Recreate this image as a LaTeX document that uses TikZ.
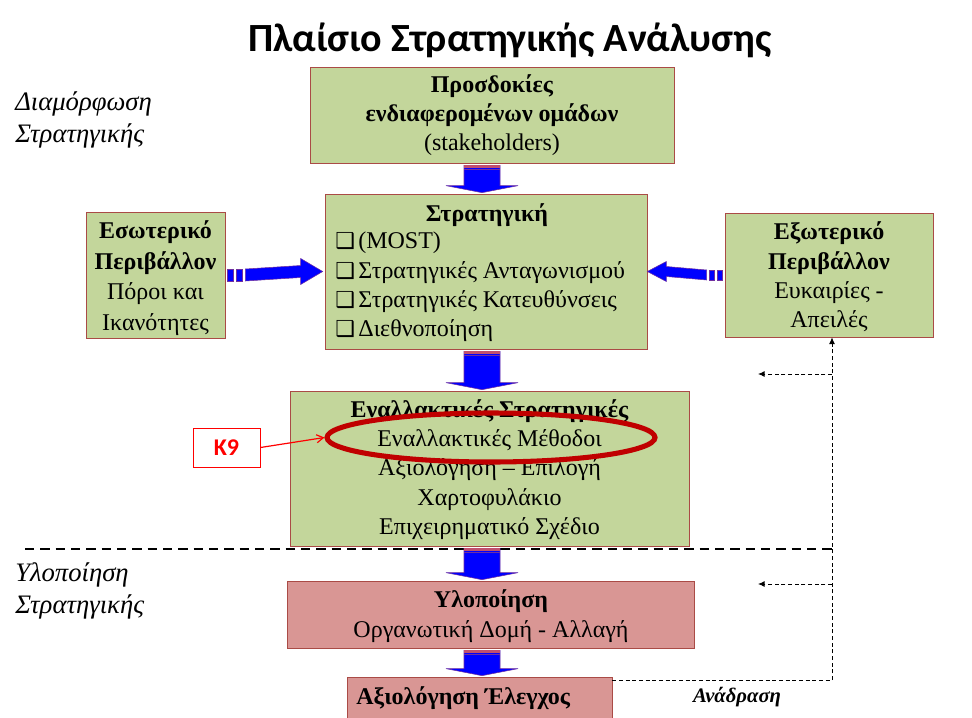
\documentclass[tikz,border=0pt]{standalone}
\usepackage{fontspec}
\setmainfont{Liberation Serif}
\newfontfamily\titlefont{Carlito}
\newfontfamily\symfont{DejaVu Sans}
\usetikzlibrary{calc,arrows.meta,shapes.geometric}
\definecolor{boxgreen}{RGB}{195,214,155}
\definecolor{boxpink}{RGB}{217,150,148}
\definecolor{boxedge}{RGB}{170,75,70}
\definecolor{arrblue}{RGB}{0,0,255}
\definecolor{arredge}{RGB}{112,48,160}
\definecolor{stripered}{RGB}{192,80,110}
\definecolor{ellred}{RGB}{192,0,0}
\newcommand{\cb}{{\symfont\fontsize{16.5}{16}\selectfont ❑}\hspace{2.5pt}}
\newcommand{\dnblock}[2]{%
  \fill[arrblue, draw=arredge, line width=0.4pt]
    ($(#1.south -| cx)+(-18,2)$) -- ($(#1.south -| cx)+(18,2)$) --
    ($(#2.north -| cx)+(18,-8)$) -- ($(#2.north -| cx)+(36,-8)$) --
    ($(#2.north -| cx)+(0,-1)$) -- ($(#2.north -| cx)+(-36,-8)$) --
    ($(#2.north -| cx)+(-18,-8)$) -- cycle;
  \fill[stripered] ($(#1.south -| cx)+(-18,2)$) rectangle ($(#1.south -| cx)+(18,4.5)$);
  \fill[arredge] ($(#1.south -| cx)+(-18,6)$) rectangle ($(#1.south -| cx)+(18,7)$);
}
\tikzset{
  box/.style={draw=boxedge, line width=0.5pt, fill=boxgreen, inner sep=0pt, align=center,
    font=\fontsize{18}{22}\selectfont},
  pinkbox/.style={box, fill=boxpink},
  txt/.style={inner sep=0pt, align=center, font=\fontsize{18}{22}\selectfont},
  sidelabel/.style={inner sep=0pt, align=left, anchor=west, font=\fontsize{20}{24}\selectfont\itshape},
  blockarr/.style={fill=arrblue, draw=arredge, line width=0.4pt},
  fb/.style={line width=0.7pt, dash pattern=on 3pt off 2pt},
  fbarrow/.style={fb, -{Latex[length=5pt,width=4.5pt]}},
}
\begin{document}
\begin{tikzpicture}[x=0.75pt,y=-0.75pt]
\useasboundingbox (0,0) rectangle (972,718);
\coordinate (cx) at (482,0);

% title
\node[inner sep=0pt, font=\titlefont\bfseries\fontsize{30}{34}\selectfont] (title) at (510,40) {Πλαίσιο Στρατηγικής Ανάλυσης};

% side labels
\node[sidelabel] (lab1) at (15,120) {Διαμόρφωση\\Στρατηγικής};
\node[sidelabel] (lab2) at (15,591) {Υλοποίηση\\Στρατηγικής};

% separator
\coordinate (sepL) at (25,549);
\coordinate (fbx) at (832,549);
\draw[line width=1.5pt, dash pattern=on 7pt off 4.5pt] (sepL) -- (fbx);

% boxes
\node[box, minimum width=364*0.75pt, minimum height=96*0.75pt] (stake) at (492,115) {};
\node[txt] (staketxt) at (492,115) {\textbf{Προσδοκίες}\\\textbf{ενδιαφερομένων ομάδων}\\(stakeholders)};

\node[box, minimum width=322*0.75pt, minimum height=155*0.75pt] (strat) at (486,271.5) {};
\node[txt, font=\fontsize{18}{22}\selectfont\bfseries] (strattitle) at (487,215) {Στρατηγική};
\node[txt, align=left, anchor=west] (stratitems) at (335,287) {\cb(MOST)\\\cb Στρατηγικές Ανταγωνισμού\\\cb Στρατηγικές Κατευθύνσεις\\\cb Διεθνοποίηση};

\node[box, minimum width=139*0.75pt, minimum height=126*0.75pt] (inner) at (155.5,275) {};
\node[txt, font=\fontsize{18}{23}\selectfont] (innertxt) at (155.5,278) {\textbf{Εσωτερικό}\\\textbf{Περιβάλλον}\\Πόροι και\\Ικανότητες};

\node[box, minimum width=208*0.75pt, minimum height=124*0.75pt] (outer) at (829,275) {};
\node[txt] (outertxt) at (829,277) {\textbf{Εξωτερικό}\\\textbf{Περιβάλλον}\\Ευκαιρίες -\\Απειλές};

\node[box, minimum width=399*0.75pt, minimum height=155*0.75pt] (alt) at (489.5,468.5) {};
\node[txt] (alttxt) at (489.5,469.5) {\textbf{Εναλλακτικές Στρατηγικές}\\Εναλλακτικές Μέθοδοι\\Αξιολόγηση – Επιλογή\\Χαρτοφυλάκιο\\Επιχειρηματικό Σχέδιο};

\node[pinkbox, minimum width=407*0.75pt, minimum height=67*0.75pt] (impl) at (490.5,614.5) {};
\node[txt] (impltxt) at (491,616) {\textbf{Υλοποίηση}\\Οργανωτική Δομή - Αλλαγή};

\node[pinkbox, minimum width=265*0.75pt, minimum height=41*0.75pt] (eval) at (479.5,697.5) {};
\node[txt, anchor=west, font=\fontsize{18}{22}\selectfont\bfseries] (evaltxt) at (356,698) {Αξιολόγηση Έλεγχος};

% vertical block arrows
\dnblock{stake}{strat}
\dnblock{strat}{alt}
\dnblock{alt}{impl}
\dnblock{impl}{eval}

% left block arrow
\fill[blockarr] ($(inner.east)+(2,-6)$) rectangle ($(inner.east)+(8,6)$);
\fill[blockarr] ($(inner.east)+(11,-6)$) rectangle ($(inner.east)+(17,6)$);
\fill[blockarr] ($(inner.east)+(20,-6)$) -- ($(strat.west)+(-24,-6)$) -- ($(strat.west)+(-24,-13)$)
  -- ($(strat.west)+(-2,0)$) -- ($(strat.west)+(-24,13)$) -- ($(strat.west)+(-24,6)$)
  -- ($(inner.east)+(20,6)$) -- cycle;

% right block arrow
\fill[blockarr] ($(outer.west)+(-2,-5)$) rectangle ($(outer.west)+(-7,5)$);
\fill[blockarr] ($(outer.west)+(-10,-5)$) rectangle ($(outer.west)+(-15,5)$);
\fill[blockarr] ($(outer.west)+(-18,-5)$) -- ($(strat.east)+(19,-5)$) -- ($(strat.east)+(19,-10)$)
  -- ($(strat.east)+(0,0)$) -- ($(strat.east)+(19,10)$) -- ($(strat.east)+(19,5)$)
  -- ($(outer.west)+(-18,5)$) -- cycle;

% K9 callout
\node[draw=red, line width=0.7pt, fill=white, minimum width=67*0.75pt, minimum height=39*0.75pt,
  inner sep=0pt, text=red, font=\titlefont\bfseries\fontsize{18}{20}\selectfont] (k9) at (226.5,447.5) {K9};
\node[ellipse, draw=ellred, line width=3.8pt, minimum width=328*0.75pt, minimum height=49*0.75pt,
  inner sep=0pt] (ell) at (491,437.5) {};
\draw[red, line width=0.9pt, -{Straight Barb[length=5pt,width=6pt]}] (k9.east) -- (ell.west);

% feedback
\coordinate (fbtop) at (outer.south -| fbx);
\coordinate (fbbot) at (832,680);
\coordinate (fbA) at (832,374);
\coordinate (fbAend) at (758,374);
\coordinate (fbB) at (832,584);
\coordinate (fbBend) at (758,584);
\draw[fb] (eval.east |- fbbot) -- (fbbot);
\draw[fbarrow] (fbbot) -- (fbtop);
\draw[fbarrow] (fbA) -- (fbAend);
\draw[fbarrow] (fbB) -- (fbBend);
\node[inner sep=0pt, font=\fontsize{15.5}{18}\selectfont\bfseries\itshape] (feedback) at (737,697) {Ανάδραση};
\end{tikzpicture}
\end{document}
